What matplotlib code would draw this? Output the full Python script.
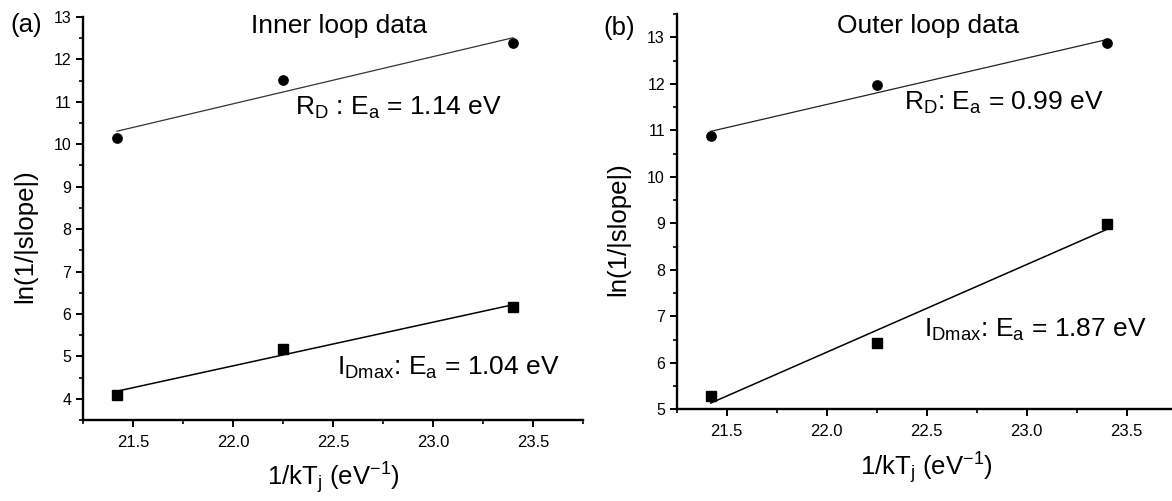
import numpy as np
import matplotlib
matplotlib.use("Agg")
import matplotlib.pyplot as plt
from matplotlib.ticker import MultipleLocator, FormatStrFormatter

plt.rcParams['font.family'] = ['Liberation Sans', 'DejaVu Sans']
plt.rcParams['mathtext.fontset'] = 'custom'
plt.rcParams['mathtext.rm'] = 'Liberation Sans'
plt.rcParams['mathtext.it'] = 'Liberation Sans'

# ─── DATA ────────────────────────────────────────────────────
inv_kT = [21.42, 22.25, 23.40]

inner_rd   = [10.14, 11.52, 12.39]
inner_idm  = [4.10, 5.17, 6.16]
outer_rd   = [10.88, 11.97, 12.88]
outer_idm  = [5.29, 6.43, 8.98]

panel_tags   = ["(a)", "(b)"]
panel_titles = ["Inner loop data", "Outer loop data"]
rd_labels  = [r"R$_\mathrm{D}$ : E$_\mathrm{a}$ = 1.14 eV",
              r"R$_\mathrm{D}$: E$_\mathrm{a}$ = 0.99 eV"]
idm_labels = [r"I$_\mathrm{Dmax}$: E$_\mathrm{a}$ = 1.04 eV",
              r"I$_\mathrm{Dmax}$: E$_\mathrm{a}$ = 1.87 eV"]

W, H = 1172, 501

# ─── FIGURE ──────────────────────────────────────────────────
fig = plt.figure(figsize=(W / 100, H / 100), dpi=100)
# axes boxes in pixels: left, bottom spine y, width, top spine y
ax_a = fig.add_axes([83 / W, (H - 420) / H, 500 / W, (420 - 17) / H])
ax_b = fig.add_axes([676.7 / W, (H - 409.3) / H, 500 / W, (409.3 - 14) / H])


def fit_line(ax, x, y, lw, color):
    k, b = np.polyfit(x, y, 1)
    xs = np.array([x[0], x[-1]])
    ax.plot(xs, k * xs + b, color=color, lw=lw, zorder=2)


def style(ax, ylim):
    ax.set_xlim(21.25, 23.75)
    ax.set_ylim(*ylim)
    for s in ['top', 'right']:
        ax.spines[s].set_visible(False)
    for s in ['left', 'bottom']:
        ax.spines[s].set_linewidth(1.7)
    ax.xaxis.set_major_locator(MultipleLocator(0.5))
    ax.xaxis.set_minor_locator(MultipleLocator(0.25))
    ax.yaxis.set_major_locator(MultipleLocator(1))
    ax.yaxis.set_minor_locator(MultipleLocator(0.5))
    ax.xaxis.set_major_formatter(FormatStrFormatter('%.1f'))
    ax.tick_params(which='major', direction='out', length=5, width=1.4)
    ax.tick_params(which='minor', direction='out', length=3, width=1.2)
    ax.tick_params(axis='x', labelsize=12, pad=5.5)
    ax.tick_params(axis='y', labelsize=11.5, pad=3.5)
    ax.set_xlabel(r"1/kT$_\mathrm{j}$ (eV$^{-1}$)", fontsize=18.5)
    ax.set_ylabel("ln(1/|slope|)", fontsize=18.5)


panels = [
    (ax_a, inner_rd, inner_idm, (3.5, 13.0), '#333333'),
    (ax_b, outer_rd, outer_idm, (5.0, 13.5), '#222222'),
]

for ax, rd, idm, yl, rd_col in panels:
    style(ax, yl)
    ax.plot(inv_kT, rd, 'o', color='black', ms=6.7, zorder=3)
    ax.plot(inv_kT, idm, 's', color='black', ms=6.5, zorder=3)
    fit_line(ax, inv_kT, rd, 0.9, rd_col)
    fit_line(ax, inv_kT, idm, 1.1, 'black')

ax_a.xaxis.set_label_coords(0.5, -0.099)
ax_a.yaxis.set_label_coords(-0.092, 0.457)
ax_b.xaxis.set_label_coords(0.5, -0.103)
ax_b.yaxis.set_label_coords(-0.093, 0.456)

# annotations (data coords, text baseline)
ax_a.text(22.31, 10.69, rd_labels[0], fontsize=19, va='baseline')
ax_a.text(22.52, 4.57, idm_labels[0], fontsize=19, va='baseline')
ax_b.text(22.385, 11.44, rd_labels[1], fontsize=19, va='baseline')
ax_b.text(22.485, 6.55, idm_labels[1], fontsize=19, va='baseline')

# titles and panel tags (figure coords)
fig.text(339 / W, 1 - 33 / H, panel_titles[0], fontsize=19,
         ha='center', va='baseline')
fig.text(928 / W, 1 - 33.3 / H, panel_titles[1], fontsize=19,
         ha='center', va='baseline')
fig.text(10 / W, 1 - 31.7 / H, panel_tags[0], fontsize=18.5, va='baseline')
fig.text(603 / W, 1 - 35 / H, panel_tags[1], fontsize=18.5, va='baseline')

fig.savefig("out.png", dpi=100)
